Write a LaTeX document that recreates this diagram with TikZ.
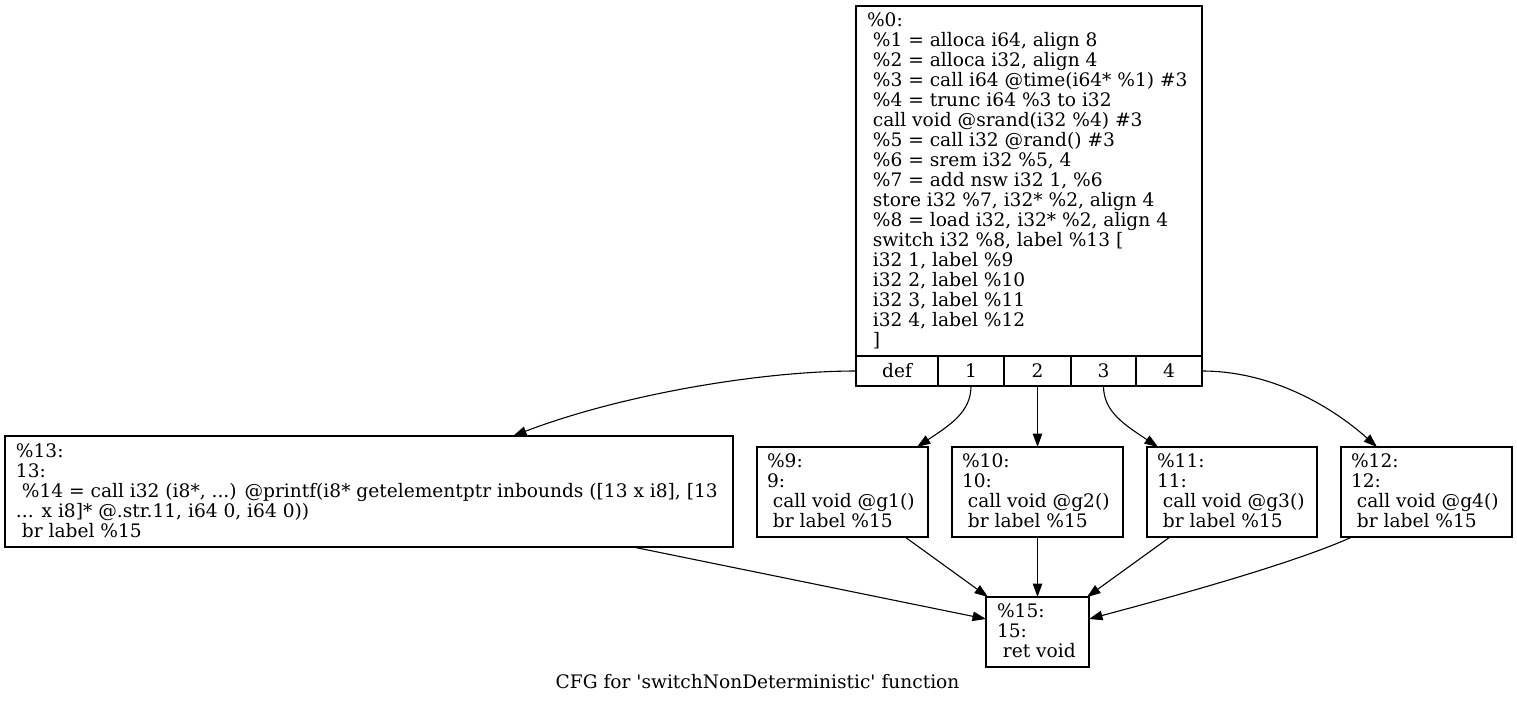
\documentclass[tikz,border=0pt]{standalone}
\usepackage{fontspec}
\newfontfamily\dvs{DejaVu Serif}
\usetikzlibrary{arrows.meta}
\newcommand\lnA{\rule[-4.5pt]{0pt}{20pt}}
\newcommand\lnB{\rule[-4.5pt]{0pt}{20pt}\ }
\newcommand\myfnt{\dvs\fontsize{18.6pt}{20pt}\selectfont\lineskiplimit-100pt\relax\lineskip0pt\relax}
\begin{document}
\begin{tikzpicture}[x=1pt,y=-1pt,
  every node/.style={font=\myfnt, inner sep=0pt, outer sep=0pt},
  box/.style={draw, line width=1.1pt, anchor=north west},
  txt/.style={anchor=west, align=left},
  edge/.style={line width=1.1pt, -{Triangle[length=13.5pt,width=9.5pt]}}]
\useasboundingbox (0,0) rectangle (1517,704);
% entry block
\node[box, minimum width=346pt, minimum height=350pt] (b0) at (856,6) {};
\node[txt] (t0) at ([xshift=11pt]b0.west) {\lnA\%0:\\
\lnB\%1 = alloca i64, align 8\\
\lnB\%2 = alloca i32, align 4\\
\lnB\%3 = call i64 @time(i64* \%1) \#3\\
\lnB\%4 = trunc i64 \%3 to i32\\
\lnB call void @srand(i32 \%4) \#3\\
\lnB\%5 = call i32 @rand() \#3\\
\lnB\%6 = srem i32 \%5, 4\\
\lnB\%7 = add nsw i32 1, \%6\\
\lnB store i32 \%7, i32* \%2, align 4\\
\lnB\%8 = load i32, i32* \%2, align 4\\
\lnB switch i32 \%8, label \%13 [\\
\lnB i32 1, label \%9\\
\lnB i32 2, label \%10\\
\lnB i32 3, label \%11\\
\lnB i32 4, label \%12\\
\lnB ]};
\node[box, minimum width=82pt, minimum height=30pt] (fdef) at (856,356) {def};
\node[box, minimum width=66pt, minimum height=30pt] (f1) at (938,356) {1};
\node[box, minimum width=67pt, minimum height=30pt] (f2) at (1004,356) {2};
\node[box, minimum width=65pt, minimum height=30pt] (f3) at (1071,356) {3};
\node[box, minimum width=66pt, minimum height=30pt] (f4) at (1136,356) {4};
% block 13
\node[box, minimum width=728pt, minimum height=111pt] (b13) at (5,436) {};
\node[txt] (t13) at ([xshift=11pt]b13.west) {\lnA\%13:\\
\lnA 13:\\
\lnB\%14 = call i32 (i8*, ...) @printf(i8* getelementptr inbounds ([13 x i8], [13\\
\lnA... x i8]* @.str.11, i64 0, i64 0))\\
\lnB br label \%15};
% blocks 9-12
\node[box, minimum width=171pt, minimum height=90pt] (b9) at (757,447) {};
\node[txt] (t9) at ([xshift=10pt]b9.west) {\lnA\%9:\\ \lnA 9:\\ \lnB call void @g1()\\ \lnB br label \%15};
\node[box, minimum width=171pt, minimum height=90pt] (b10) at (952,447) {};
\node[txt] (t10) at ([xshift=10pt]b10.west) {\lnA\%10:\\ \lnA 10:\\ \lnB call void @g2()\\ \lnB br label \%15};
\node[box, minimum width=170pt, minimum height=90pt] (b11) at (1147,447) {};
\node[txt] (t11) at ([xshift=10pt]b11.west) {\lnA\%11:\\ \lnA 11:\\ \lnB call void @g3()\\ \lnB br label \%15};
\node[box, minimum width=171pt, minimum height=90pt] (b12) at (1341,447) {};
\node[txt] (t12) at ([xshift=10pt]b12.west) {\lnA\%12:\\ \lnA 12:\\ \lnB call void @g4()\\ \lnB br label \%15};
% block 15
\node[box, minimum width=103pt, minimum height=70pt] (b15) at (986,597) {};
\node[txt] (t15) at ([xshift=11pt]b15.west) {\lnA\%15:\\ \lnA 15:\\ \lnB ret void};
% caption
\node (cap) at (757.5,682) {CFG for 'switchNonDeterministic' function};
% edges
\draw[edge] (fdef.west) .. controls (760,371) and (620,395) .. ([xshift=144pt]b13.north);
\draw[edge] (f1.south) .. controls (971,412) and (950,425) .. ([xshift=74.5pt]b9.north);
\draw[edge] (f2.south) -- (b10.north);
\draw[edge] (f3.south) .. controls (1103.5,412) and (1125,425) .. ([xshift=-74pt]b11.north);
\draw[edge] (f4.east) .. controls (1270,371) and (1330,405) .. ([xshift=-49.5pt]b12.north);
\draw[edge] ([xshift=264pt]b13.south) -- ([yshift=13pt]b15.west);
\draw[edge] ([xshift=62.5pt]b9.south) -- ([xshift=-49.5pt]b15.north);
\draw[edge] (b10.south) -- (b15.north);
\draw[edge] ([xshift=-62pt]b11.south) -- ([xshift=49.5pt]b15.north);
\draw[edge] ([xshift=-74.5pt]b12.south) .. controls (1290,565) and (1160,600) .. ([yshift=13pt]b15.east);
\end{tikzpicture}
\end{document}
